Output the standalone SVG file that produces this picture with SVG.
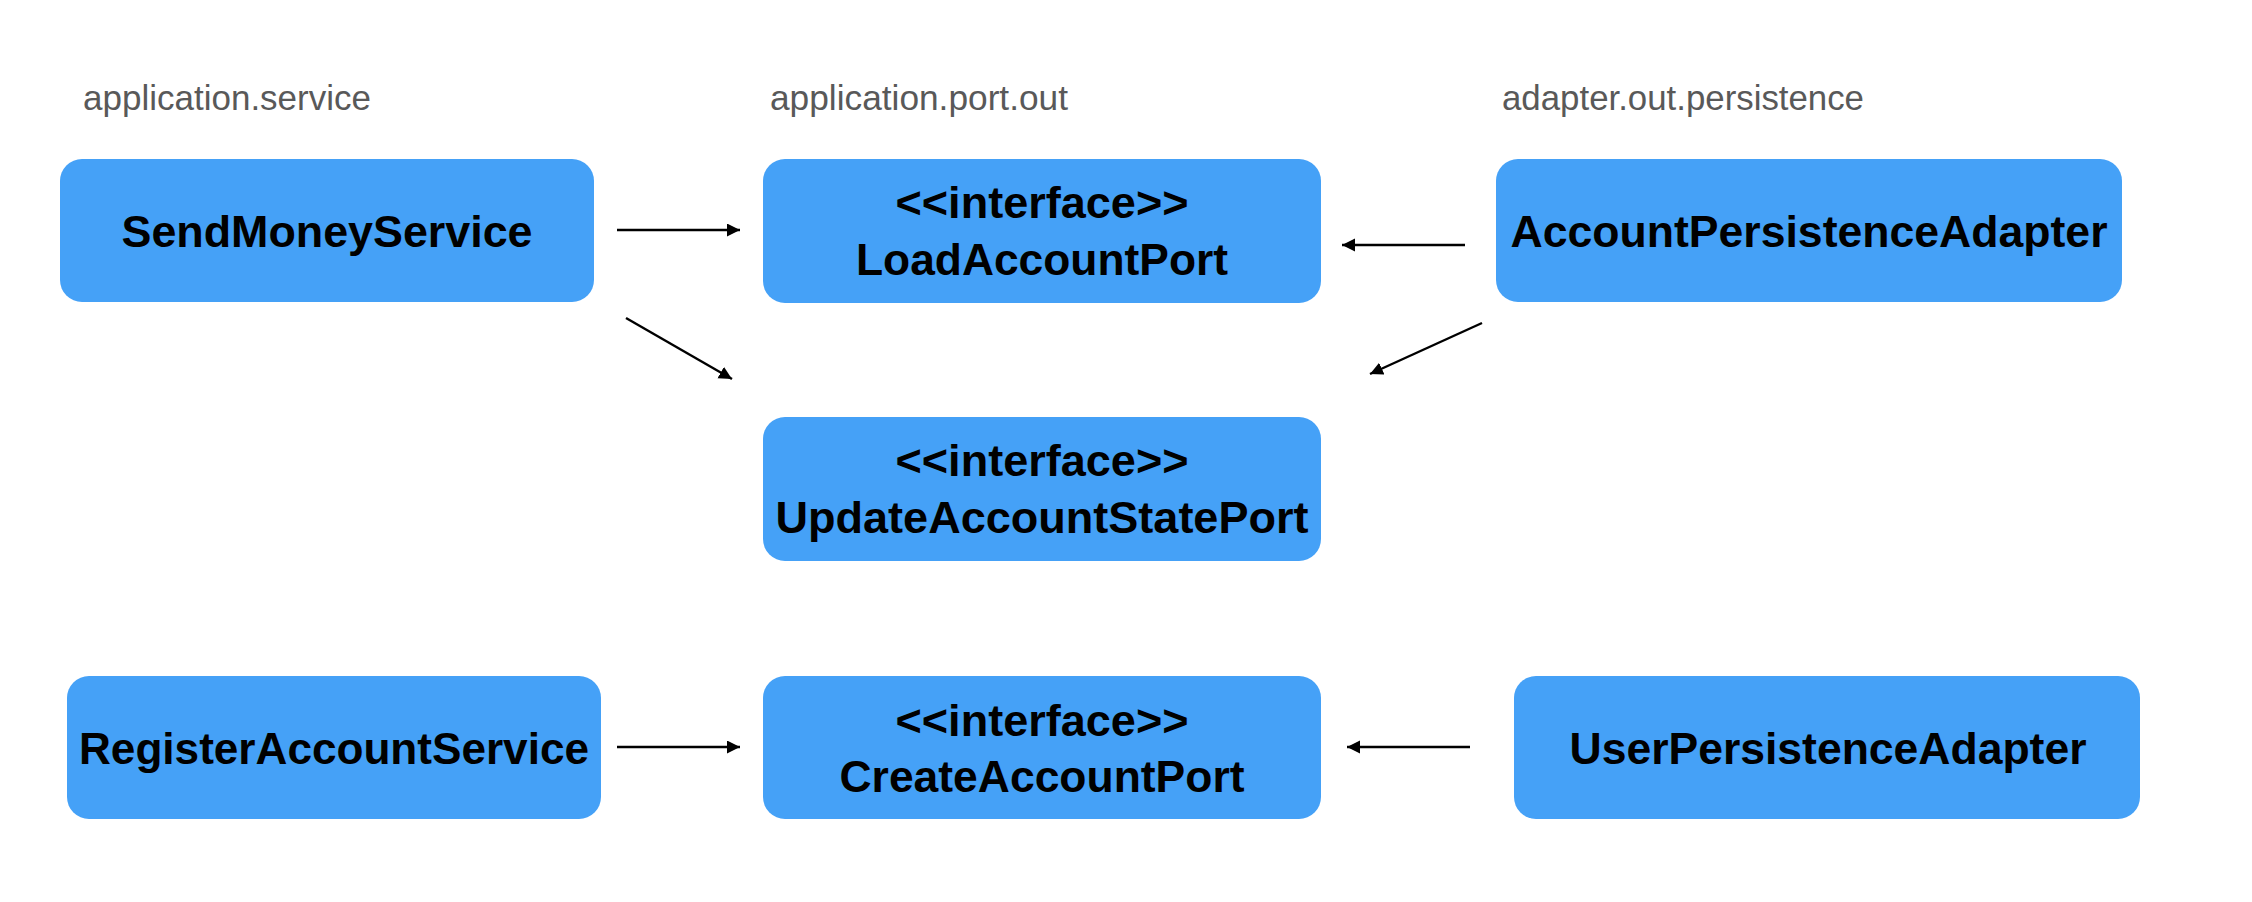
<svg xmlns="http://www.w3.org/2000/svg" width="2252" height="902" viewBox="0 0 2252 902">
  <style>
    .box { fill: #45a1f7; }
    .name { font-family: "Liberation Sans", Arial, Helvetica, sans-serif; font-weight: bold; font-size: 44px; fill: #000; text-anchor: middle; }
    .pkg { font-family: "Liberation Sans", Arial, Helvetica, sans-serif; font-size: 35px; fill: #595959; }
    .edge { stroke: #000; stroke-width: 2.4; fill: none; marker-end: url(#head); }
  </style>
  <defs>
    <marker id="head" markerUnits="userSpaceOnUse" markerWidth="14" markerHeight="14" refX="13" refY="6.5" orient="auto">
      <path d="M0,0 L13,6.5 L0,13 Z" fill="#000"/>
    </marker>
  </defs>
  <rect width="2252" height="902" fill="#fff"/>

  <!-- package captions -->
  <g id="packages">
    <text class="pkg" x="83" y="110" textLength="288" lengthAdjust="spacingAndGlyphs">application.service</text>
    <text class="pkg" x="770" y="110" textLength="298" lengthAdjust="spacingAndGlyphs">application.port.out</text>
    <text class="pkg" x="1502" y="110" textLength="362" lengthAdjust="spacingAndGlyphs">adapter.out.persistence</text>
  </g>

  <g id="SendMoneyService">
    <rect class="box" x="60" y="159" width="534" height="143" rx="22"/>
    <text class="name" x="327" y="247" textLength="411" lengthAdjust="spacingAndGlyphs">SendMoneyService</text>
  </g>

  <g id="LoadAccountPort">
    <rect class="box" x="763" y="159" width="558" height="144" rx="22"/>
    <text class="name" x="1042" y="218" textLength="293" lengthAdjust="spacingAndGlyphs">&lt;&lt;interface&gt;&gt;</text>
    <text class="name" x="1042" y="275" textLength="372" lengthAdjust="spacingAndGlyphs">LoadAccountPort</text>
  </g>

  <g id="AccountPersistenceAdapter">
    <rect class="box" x="1496" y="159" width="626" height="143" rx="22"/>
    <text class="name" x="1809" y="247" textLength="597" lengthAdjust="spacingAndGlyphs">AccountPersistenceAdapter</text>
  </g>

  <g id="UpdateAccountStatePort">
    <rect class="box" x="763" y="417" width="558" height="144" rx="22"/>
    <text class="name" x="1042" y="476" textLength="293" lengthAdjust="spacingAndGlyphs">&lt;&lt;interface&gt;&gt;</text>
    <text class="name" x="1042" y="533" textLength="533" lengthAdjust="spacingAndGlyphs">UpdateAccountStatePort</text>
  </g>

  <g id="RegisterAccountService">
    <rect class="box" x="67" y="676" width="534" height="143" rx="22"/>
    <text class="name" x="334" y="764" textLength="510" lengthAdjust="spacingAndGlyphs">RegisterAccountService</text>
  </g>

  <g id="CreateAccountPort">
    <rect class="box" x="763" y="676" width="558" height="143" rx="22"/>
    <text class="name" x="1042" y="736" textLength="293" lengthAdjust="spacingAndGlyphs">&lt;&lt;interface&gt;&gt;</text>
    <text class="name" x="1042" y="792" textLength="405" lengthAdjust="spacingAndGlyphs">CreateAccountPort</text>
  </g>

  <g id="UserPersistenceAdapter">
    <rect class="box" x="1514" y="676" width="626" height="143" rx="22"/>
    <text class="name" x="1828" y="764" textLength="517" lengthAdjust="spacingAndGlyphs">UserPersistenceAdapter</text>
  </g>

  <!-- dependencies -->
  <g id="connectors">
    <line class="edge" x1="617" y1="230" x2="740" y2="230"/>
    <line class="edge" x1="626" y1="318" x2="732" y2="379"/>
    <line class="edge" x1="1465" y1="245" x2="1342" y2="245"/>
    <line class="edge" x1="1482" y1="323" x2="1370" y2="374"/>
    <line class="edge" x1="617" y1="747" x2="740" y2="747"/>
    <line class="edge" x1="1470" y1="747" x2="1347" y2="747"/>
  </g>
</svg>
